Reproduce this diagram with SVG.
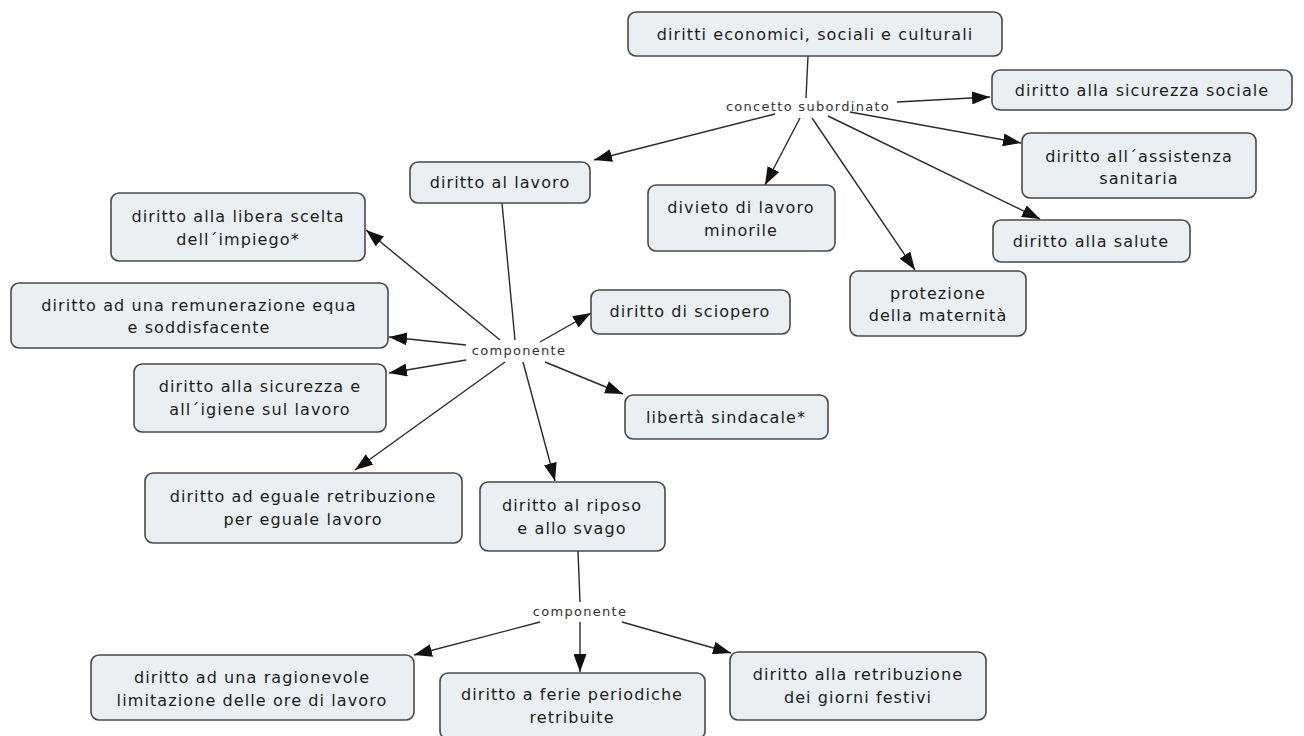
<svg xmlns="http://www.w3.org/2000/svg" width="1304" height="736" viewBox="0 0 1304 736">
  <style>
    .node rect { fill: #e9eff3; stroke: #4a4a4a; stroke-width: 1.6; }
    .node text { font-family: "DejaVu Sans", Verdana, sans-serif; font-size: 16px; letter-spacing: 1.1px; fill: #1c1c1c; text-anchor: middle; }
    .link { stroke: #2a2a2a; stroke-width: 1.4; fill: none; }
    .arrow { marker-end: url(#head); }
    .lbl { font-family: "DejaVu Sans", Verdana, sans-serif; font-size: 13px; letter-spacing: 1.3px; fill: #333; text-anchor: middle; }
  </style>
  <defs>
    <marker id="head" markerUnits="userSpaceOnUse" markerWidth="18" markerHeight="13" refX="18" refY="6.5" orient="auto">
      <path d="M0,0 L18,6.5 L0,13 Z" fill="#111"/>
    </marker>
  </defs>
  <rect width="1304" height="736" fill="#ffffff"/>

  <g id="connectors">
    <!-- upper hub: concetto subordinato -->
    <line class="link" x1="808" y1="56" x2="806" y2="98"/>
    <line class="link arrow" x1="775" y1="114" x2="594" y2="160"/>
    <line class="link arrow" x1="800" y1="118" x2="765" y2="185"/>
    <line class="link arrow" x1="812" y1="118" x2="915" y2="270"/>
    <line class="link arrow" x1="828" y1="116" x2="1040" y2="219"/>
    <line class="link arrow" x1="850" y1="112" x2="1021" y2="143"/>
    <line class="link arrow" x1="897" y1="102" x2="990" y2="97"/>
    <!-- middle hub: componente -->
    <line class="link" x1="502" y1="203" x2="515" y2="340"/>
    <line class="link arrow" x1="500" y1="340" x2="366" y2="230"/>
    <line class="link arrow" x1="466" y1="345" x2="389" y2="337"/>
    <line class="link arrow" x1="466" y1="360" x2="389" y2="373"/>
    <line class="link arrow" x1="505" y1="362" x2="355" y2="470"/>
    <line class="link arrow" x1="523" y1="362" x2="555" y2="481"/>
    <line class="link arrow" x1="540" y1="342" x2="591" y2="313"/>
    <line class="link arrow" x1="545" y1="362" x2="623" y2="394"/>
    <!-- lower hub: componente -->
    <line class="link" x1="578" y1="551" x2="580" y2="602"/>
    <line class="link arrow" x1="540" y1="622" x2="414" y2="655"/>
    <line class="link arrow" x1="580" y1="622" x2="580" y2="672"/>
    <line class="link arrow" x1="622" y1="622" x2="731" y2="653"/>
  </g>

  <g id="link-labels">
    <text class="lbl" x="808" y="111">concetto subordinato</text>
    <text class="lbl" x="519" y="355">componente</text>
    <text class="lbl" x="580" y="616">componente</text>
  </g>

  <g id="n-diritti-esc" class="node">
    <rect x="628" y="12" width="374" height="44" rx="8"/>
    <text x="815" y="40">diritti economici, sociali e culturali</text>
  </g>
  <g id="n-sicurezza-sociale" class="node">
    <rect x="992" y="70" width="300" height="40" rx="8"/>
    <text x="1142" y="96">diritto alla sicurezza sociale</text>
  </g>
  <g id="n-assistenza" class="node">
    <rect x="1022" y="133" width="234" height="65" rx="8"/>
    <text x="1139" y="162">diritto all´assistenza</text>
    <text x="1139" y="184">sanitaria</text>
  </g>
  <g id="n-salute" class="node">
    <rect x="993" y="220" width="197" height="42" rx="8"/>
    <text x="1091" y="247">diritto alla salute</text>
  </g>
  <g id="n-maternita" class="node">
    <rect x="850" y="271" width="176" height="65" rx="8"/>
    <text x="938" y="299">protezione</text>
    <text x="938" y="321">della maternità</text>
  </g>
  <g id="n-minorile" class="node">
    <rect x="648" y="185" width="187" height="66" rx="8"/>
    <text x="741" y="213">divieto di lavoro</text>
    <text x="741" y="236">minorile</text>
  </g>
  <g id="n-lavoro" class="node">
    <rect x="410" y="162" width="180" height="41" rx="8"/>
    <text x="500" y="188">diritto al lavoro</text>
  </g>
  <g id="n-libera-scelta" class="node">
    <rect x="111" y="193" width="254" height="68" rx="8"/>
    <text x="238" y="222">diritto alla libera scelta</text>
    <text x="238" y="245">dell´impiego*</text>
  </g>
  <g id="n-remunerazione" class="node">
    <rect x="11" y="283" width="377" height="65" rx="8"/>
    <text x="199" y="311">diritto ad una remunerazione equa</text>
    <text x="199" y="333">e soddisfacente</text>
  </g>
  <g id="n-sciopero" class="node">
    <rect x="591" y="290" width="199" height="44" rx="8"/>
    <text x="690" y="317">diritto di sciopero</text>
  </g>
  <g id="n-igiene" class="node">
    <rect x="134" y="364" width="252" height="68" rx="8"/>
    <text x="260" y="392">diritto alla sicurezza e</text>
    <text x="260" y="415">all´igiene sul lavoro</text>
  </g>
  <g id="n-sindacale" class="node">
    <rect x="625" y="395" width="203" height="44" rx="8"/>
    <text x="726" y="423">libertà sindacale*</text>
  </g>
  <g id="n-eguale-retribuzione" class="node">
    <rect x="145" y="473" width="317" height="70" rx="8"/>
    <text x="303" y="502">diritto ad eguale retribuzione</text>
    <text x="303" y="525">per eguale lavoro</text>
  </g>
  <g id="n-riposo" class="node">
    <rect x="480" y="482" width="185" height="69" rx="8"/>
    <text x="572" y="511">diritto al riposo</text>
    <text x="572" y="534">e allo svago</text>
  </g>
  <g id="n-ore-lavoro" class="node">
    <rect x="91" y="655" width="323" height="65" rx="8"/>
    <text x="252" y="683">diritto ad una ragionevole</text>
    <text x="252" y="706">limitazione delle ore di lavoro</text>
  </g>
  <g id="n-ferie" class="node">
    <rect x="440" y="673" width="265" height="66" rx="8"/>
    <text x="572" y="700">diritto a ferie periodiche</text>
    <text x="572" y="723">retribuite</text>
  </g>
  <g id="n-festivi" class="node">
    <rect x="730" y="652" width="256" height="68" rx="8"/>
    <text x="858" y="680">diritto alla retribuzione</text>
    <text x="858" y="703">dei giorni festivi</text>
  </g>
</svg>
